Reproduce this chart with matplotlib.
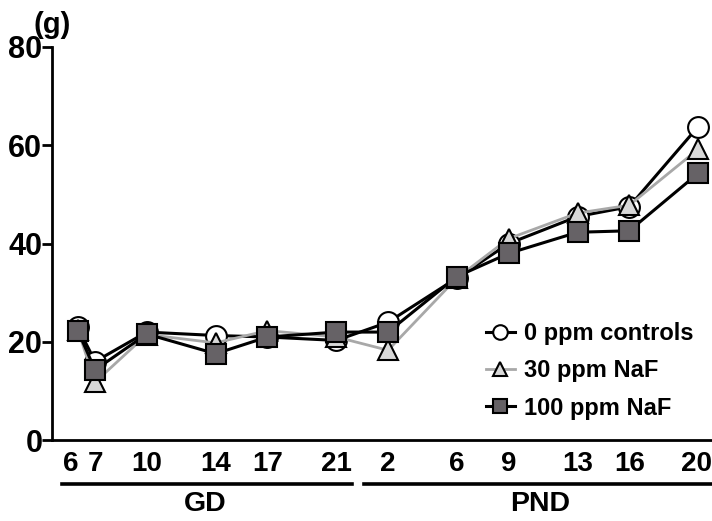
import matplotlib
matplotlib.use("Agg")
import matplotlib.pyplot as plt
import matplotlib.transforms as mtransforms

plt.rcParams["font.family"] = ["Liberation Sans", "DejaVu Sans"]
plt.rcParams["font.weight"] = "bold"

# days: GD 6..21, then PND (birth ~ GD22 -> PND p at 22 + p)
gd_days = [6, 7, 10, 14, 17, 21]
pnd_days = [2, 6, 9, 13, 16, 20]
tick_labels = [str(d) for d in gd_days + pnd_days]

ctrl = [23.0, 16.0, 22.0, 21.3, 21.0, 20.3, 24.0, 33.0, 40.0, 45.5, 47.5, 63.8]
naf30 = [22.5, 11.8, 21.5, 19.8, 22.3, 21.0, 18.3, 33.0, 41.0, 46.2, 47.8, 59.2]
naf100 = [22.3, 14.3, 21.6, 17.6, 21.0, 22.0, 22.0, 33.3, 38.0, 42.3, 42.6, 54.3]


def main():
    x = gd_days + [22 + p for p in pnd_days]

    fig = plt.figure(figsize=(7.12, 5.21), dpi=100)
    ax = fig.add_axes([0.073, 0.155, 0.927, 0.755])

    ax.plot(x, ctrl, color="black", lw=2.2, marker="o", ms=15,
            mfc="white", mec="black", mew=1.5, label="0 ppm controls", zorder=3)
    ax.plot(x, naf30, color="#a8a8a8", lw=2.0, marker="^", ms=14,
            mfc="#d8d8d8", mec="black", mew=1.5, label="30 ppm NaF", zorder=4)
    ax.plot(x, naf100, color="black", lw=2.2, marker="s", ms=14,
            mfc="#666266", mec="black", mew=1.5, label="100 ppm NaF", zorder=5)

    ax.set_ylim(0, 80)
    ax.set_xlim(4.5, 42.8)
    ax.set_yticks([0, 20, 40, 60, 80])
    ax.set_xticks(x)
    ax.set_xticklabels(tick_labels)
    ax.tick_params(axis="y", direction="out", length=7, width=2,
                   labelsize=22, pad=0)
    ax.tick_params(axis="x", length=0, labelsize=20, pad=8)
    for lab in ax.get_yticklabels() + ax.get_xticklabels():
        lab.set_fontweight("bold")
    # nudge the crowded "6" label left and the last "20" inward
    labels = ax.get_xticklabels()
    labels[0].set_transform(labels[0].get_transform() +
                            mtransforms.ScaledTranslation(-0.07, 0, fig.dpi_scale_trans))
    labels[-1].set_transform(labels[-1].get_transform() +
                             mtransforms.ScaledTranslation(-0.02, 0, fig.dpi_scale_trans))

    for side in ("top", "right"):
        ax.spines[side].set_visible(False)
    ax.spines["left"].set_linewidth(2)
    ax.spines["bottom"].set_linewidth(2)

    trans = ax.get_xaxis_transform()
    ax.plot([5.1, 21.9], [-0.112, -0.112], color="black", lw=2.6,
            transform=trans, clip_on=False)
    ax.plot([22.6, 42.8], [-0.112, -0.112], color="black", lw=2.6,
            transform=trans, clip_on=False)
    ax.text(13.4, -0.163, "GD", transform=trans, ha="center", va="center",
            fontsize=20.5, fontweight="bold")
    ax.text(32.8, -0.163, "PND", transform=trans, ha="center", va="center",
            fontsize=20.5, fontweight="bold")

    ax.text(0.0, 1.056, "(g)", transform=ax.transAxes, ha="center",
            va="center", fontsize=21, fontweight="bold")

    leg = ax.legend(loc="upper left", bbox_to_anchor=(0.658, 0.30),
                    frameon=False, fontsize=17, handlelength=1.2,
                    handletextpad=0.4, labelspacing=0.6, markerscale=0.7,
                    borderaxespad=0, borderpad=0)
    for t in leg.get_texts():
        t.set_fontweight("bold")

    fig.savefig("out.png", dpi=100)


if __name__ == "__main__":
    main()
